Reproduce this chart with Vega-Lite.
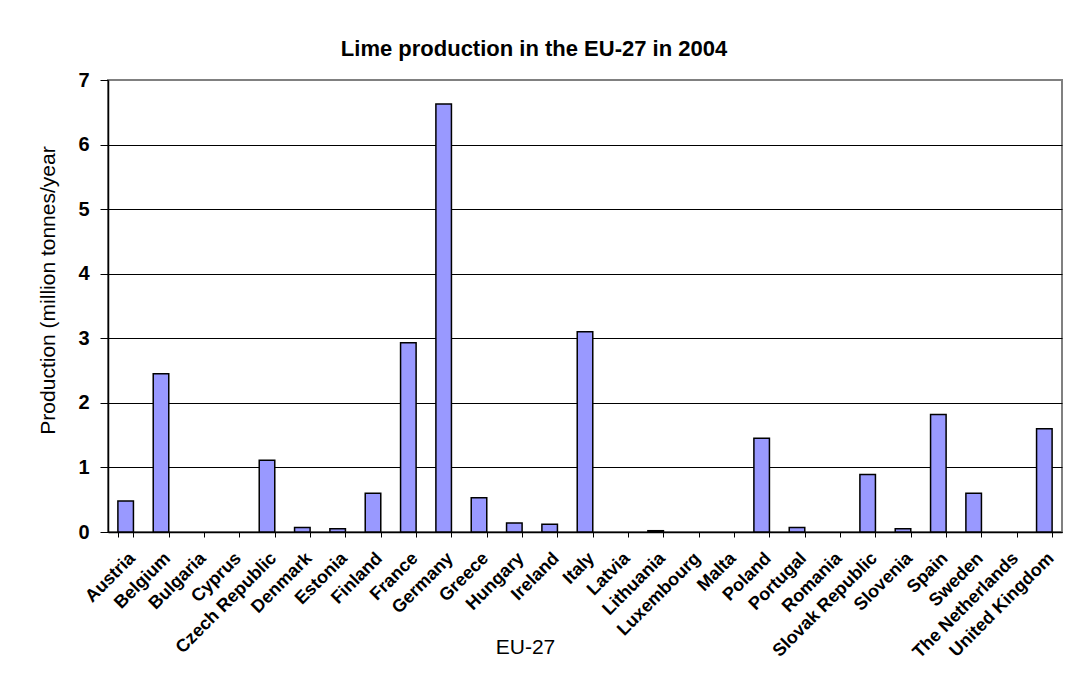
{
  "$schema": "https://vega.github.io/schema/vega-lite/v6.json",
  "width": 954,
  "height": 452,
  "autosize": "none",
  "padding": {"left": 108, "top": 80, "right": 12, "bottom": 141},
  "background": "white",
  "title": {
    "text": "Lime production in the EU-27 in 2004",
    "font": "Liberation Sans",
    "fontSize": 22,
    "fontWeight": "bold",
    "color": "black",
    "anchor": "middle",
    "dx": -51,
    "offset": 9
  },
  "data": {
    "values": [
      {"country": "Austria", "production": 0.48},
      {"country": "Belgium", "production": 2.45},
      {"country": "Bulgaria", "production": 0},
      {"country": "Cyprus", "production": 0},
      {"country": "Czech Republic", "production": 1.11},
      {"country": "Denmark", "production": 0.07},
      {"country": "Estonia", "production": 0.05},
      {"country": "Finland", "production": 0.6},
      {"country": "France", "production": 2.93},
      {"country": "Germany", "production": 6.63},
      {"country": "Greece", "production": 0.53},
      {"country": "Hungary", "production": 0.14},
      {"country": "Ireland", "production": 0.12},
      {"country": "Italy", "production": 3.1},
      {"country": "Latvia", "production": 0},
      {"country": "Lithuania", "production": 0.02},
      {"country": "Luxembourg", "production": 0},
      {"country": "Malta", "production": 0},
      {"country": "Poland", "production": 1.45},
      {"country": "Portugal", "production": 0.07},
      {"country": "Romania", "production": 0},
      {"country": "Slovak Republic", "production": 0.89},
      {"country": "Slovenia", "production": 0.05},
      {"country": "Spain", "production": 1.82},
      {"country": "Sweden", "production": 0.6},
      {"country": "The Netherlands", "production": 0},
      {"country": "United Kingdom", "production": 1.6}
    ]
  },
  "mark": {"type": "bar", "fill": "#9999FF", "stroke": "black", "strokeWidth": 1.5},
  "encoding": {
    "x": {
      "field": "country",
      "type": "nominal",
      "sort": null,
      "scale": {"paddingInner": 0.56, "paddingOuter": 0.28},
      "axis": {
        "labelAngle": -45,
        "labelFont": "Liberation Sans",
        "labelFontSize": 18,
        "labelFontWeight": "bold",
        "labelColor": "black",
        "labelPadding": 12,
        "labelLimit": 300,
        "tickBand": "extent",
        "tickColor": "black",
        "tickSize": 5,
        "domainColor": "black",
        "domainWidth": 1.5,
        "title": "EU-27",
        "titleFont": "Liberation Sans",
        "titleFontSize": 21,
        "titleFontWeight": "normal",
        "titleColor": "black",
        "titleX": 417,
        "titleY": 121,
        "titleAlign": "center",
        "titleBaseline": "alphabetic"
      }
    },
    "y": {
      "field": "production",
      "type": "quantitative",
      "scale": {"domain": [0, 7], "nice": false},
      "axis": {
        "values": [0, 1, 2, 3, 4, 5, 6, 7],
        "labelFont": "Liberation Sans",
        "labelFontSize": 20,
        "labelFontWeight": "bold",
        "labelColor": "black",
        "labelPadding": 11,
        "tickColor": "black",
        "tickSize": 8,
        "domainColor": "black",
        "domainWidth": 1.5,
        "grid": true,
        "gridColor": {"condition": {"test": "datum.value == 7", "value": "#808080"}, "value": "black"},
        "gridWidth": 1,
        "title": "Production (million tonnes/year",
        "titleFont": "Liberation Sans",
        "titleFontSize": 21,
        "titleFontWeight": "normal",
        "titleColor": "black",
        "titleAngle": -90,
        "titleX": -60,
        "titleY": 210,
        "titleAlign": "center",
        "titleBaseline": "middle"
      }
    },
    "strokeOpacity": {"condition": {"test": "datum.production == 0", "value": 0}, "value": 1}
  },
  "config": {
    "view": {"stroke": "#808080", "strokeWidth": 2}
  }
}
